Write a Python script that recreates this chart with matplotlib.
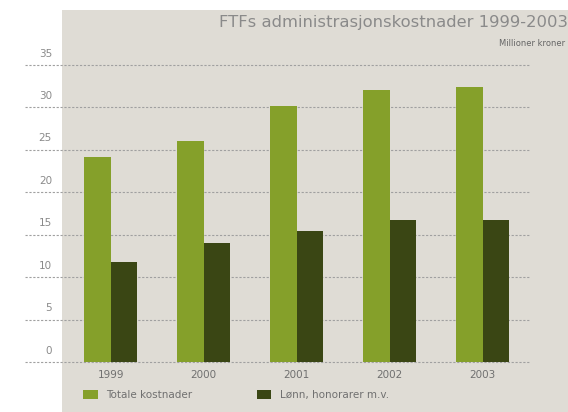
import matplotlib
matplotlib.use("Agg")
import matplotlib.pyplot as plt
from matplotlib.patches import Rectangle
import numpy as np

years = ["1999", "2000", "2001", "2002", "2003"]
totale = [24.2, 26.1, 30.2, 32.0, 32.4]
lonn = [11.8, 14.0, 15.4, 16.7, 16.7]
yticks = [0, 5, 10, 15, 20, 25, 30, 35]
title = "FTFs administrasjonskostnader 1999-2003"
subtitle = "Millioner kroner"
labels = ["Totale kostnader", "Lønn, honorarer m.v."]

W, H = 568, 412
fig = plt.figure(figsize=(W / 100, H / 100), dpi=100)
fig.patch.set_facecolor("white")

# grey panel
fig.patches.append(Rectangle((62 / W, 0), 1 - 62 / W, (H - 10) / H,
                             transform=fig.transFigure, facecolor="#dfdcd5",
                             edgecolor="none", zorder=-5))

ax = fig.add_axes([62 / W, (H - 362) / H, (530 - 62) / W, (362 - 65) / H])
ax.set_facecolor("none")
ax.set_zorder(2)
x = np.arange(len(years))
bw = 0.287
light = "#85a02a"
dark = "#3a4614"
b1 = ax.bar(x - bw / 2, totale, bw, color=light, zorder=3, label=labels[0])
b2 = ax.bar(x + bw / 2, lonn, bw, color=dark, zorder=3, label=labels[1])
ax.set_xlim(-0.524, 4.51)
ax.set_ylim(0, 35)
for s in ax.spines.values():
    s.set_visible(False)
ax.set_yticks([])
ax.set_xticks(x)
ax.set_xticklabels(years, fontsize=7.5, color="#707070")
ax.tick_params(axis="x", length=0, pad=6)

x0 = (25 - 62) / (530 - 62)
for v in yticks:
    ax.plot([x0, 1], [v, v], transform=ax.get_yaxis_transform(), color="#a0a0a0",
            lw=0.8, ls=(0, (2, 1.5)), clip_on=False, zorder=2)
    ax.text((52 - 62) / (530 - 62), v + 0.75, str(v), transform=ax.get_yaxis_transform(),
            ha="right", va="bottom", fontsize=7.5, color="#8a8a8a", clip_on=False)

fig.text(568 / W, 1 - 22 / H, title, ha="right", va="center", fontsize=11.8, color="#8a8a8a")
fig.text(565 / W, 1 - 43 / H, subtitle, ha="right", va="center", fontsize=6, color="#666666")

fig.legend([b1, b2], labels, loc="center left", bbox_to_anchor=(83 / W, 1 - 395 / H),
           ncol=2, frameon=False, fontsize=7.5, labelcolor="#707070",
           handlelength=1.4, handleheight=0.9, handletextpad=0.8, columnspacing=6.2,
           borderpad=0, borderaxespad=0)

fig.savefig("out.png", dpi=100)
